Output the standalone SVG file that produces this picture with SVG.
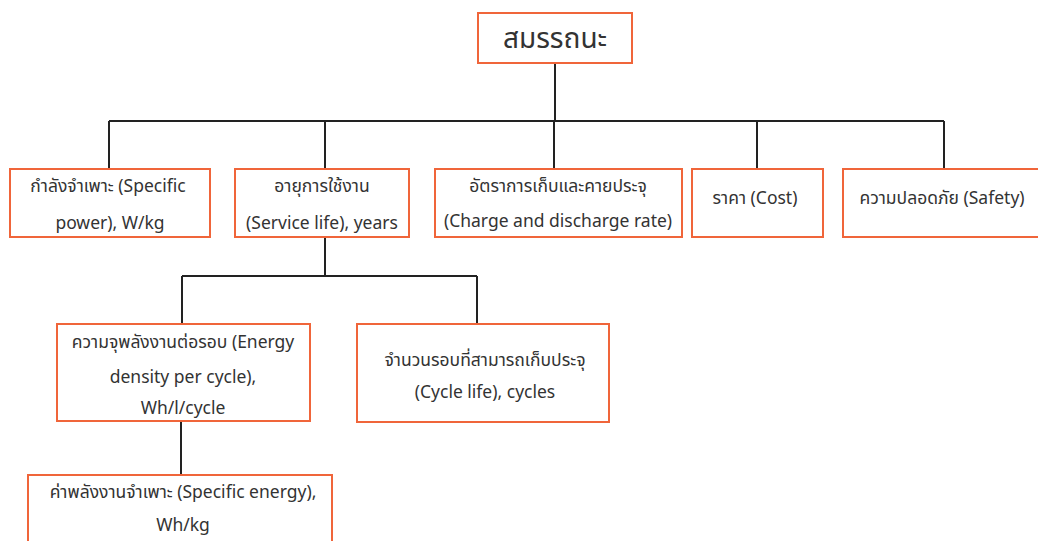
<svg xmlns="http://www.w3.org/2000/svg" width="1038" height="541" viewBox="0 0 1038 541">
<style>
.box{fill:#ffffff;stroke:#f0653a;stroke-width:2}
.t{font-family:"Noto Sans Thai","Noto Sans Thai UI","Noto Sans","DejaVu Sans",sans-serif;font-size:17.5px;fill:#333333;text-anchor:middle}
.big{font-size:28px}
.c{fill:none;stroke:#222222;stroke-width:2}
</style>
<rect width="1038" height="541" fill="#ffffff"/>
<g id="connectors">
<path class="c" d="M555 63V121M109 121H944M109 121V169M325 121V169M554 121V169M757 121V169M944 121V169"/>
<path class="c" d="M325 237V276M182 276H477M182 276V324M477 276V324"/>
<path class="c" d="M181 421V475"/>
</g>
<g id="n0"><rect class="box" x="478" y="13" width="154" height="50"/><text class="t big" x="555" y="48">สมรรถนะ</text></g>
<g id="n1"><rect class="box" x="10" y="169" width="200" height="68"/><text class="t" x="108" y="192">กำลังจำเพาะ (Specific</text><text class="t" x="110" y="229">power), W/kg</text></g>
<g id="n2"><rect class="box" x="235" y="169" width="174" height="68"/><text class="t" x="322" y="192">อายุการใช้งาน</text><text class="t" x="322" y="229">(Service life), years</text></g>
<g id="n3"><rect class="box" x="435" y="169" width="247" height="68"/><text class="t" x="558" y="192">อัตราการเก็บและคายประจุ</text><text class="t" x="558" y="227">(Charge and discharge rate)</text></g>
<g id="n4"><rect class="box" x="692" y="169" width="131" height="68"/><text class="t" x="755" y="204">ราคา (Cost)</text></g>
<g id="n5"><rect class="box" x="843" y="169" width="205" height="68"/><text class="t" x="942" y="204">ความปลอดภัย (Safety)</text></g>
<g id="n6"><rect class="box" x="57" y="324" width="253" height="97"/><text class="t" x="183" y="348">ความจุพลังงานต่อรอบ (Energy</text><text class="t" x="183" y="383">density per cycle),</text><text class="t" x="183" y="414">Wh/l/cycle</text></g>
<g id="n7"><rect class="box" x="357" y="324" width="252" height="98"/><text class="t" x="485" y="366">จำนวนรอบที่สามารถเก็บประจุ</text><text class="t" x="485" y="398">(Cycle life), cycles</text></g>
<g id="n8"><rect class="box" x="28" y="475" width="304" height="80"/><text class="t" x="183" y="498">ค่าพลังงานจำเพาะ (Specific energy),</text><text class="t" x="183" y="531">Wh/kg</text></g>
</svg>
